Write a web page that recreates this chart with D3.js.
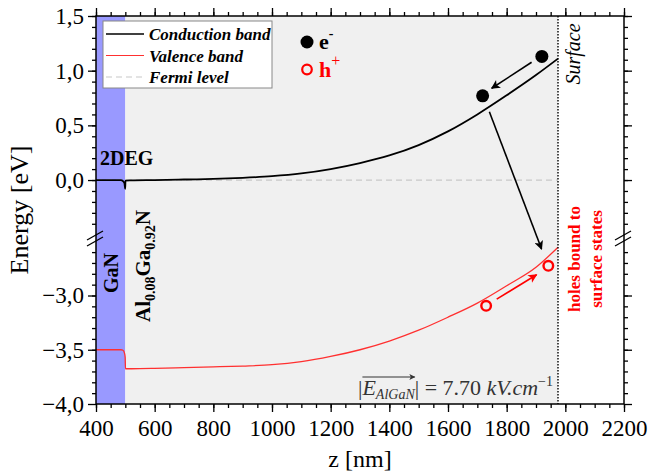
<!DOCTYPE html>
<html>
<head>
<meta charset="utf-8">
<script src="https://cdn.jsdelivr.net/npm/d3@7"></script>
<style>
  body { margin: 0; background: #fff; }
  svg { font-family: "Liberation Serif", "Times New Roman", serif; }
</style>
</head>
<body>
<script>
// band diagram data (z in nm, energy in eV)
var zCond = [400, 470, 485, 492, 497, 499.5, 500.5, 520, 600, 700, 800, 900, 1000, 1100, 1200, 1300, 1400, 1500, 1600, 1700, 1800, 1900, 1975];
var eCond = [0.00, 0.00, 0.00, -0.01, -0.03, -0.08, -0.005, -0.003, 0.00, 0.005, 0.01, 0.02, 0.035, 0.06, 0.10, 0.155, 0.225, 0.32, 0.445, 0.60, 0.775, 0.96, 1.11];

var zVal = [400, 485, 492, 497, 499.5, 500.5, 520, 600, 700, 800, 900, 1000, 1100, 1200, 1300, 1400, 1500, 1600, 1700, 1800, 1900, 1975];
var eVal = [-3.50, -3.50, -3.505, -3.53, -3.57, -3.675, -3.675, -3.672, -3.665, -3.658, -3.65, -3.638, -3.61, -3.562, -3.50, -3.42, -3.32, -3.20, -3.07, -2.91, -2.74, -2.555];

var fermiZ = [400, 1975];
var fermiE = [0, 0];

var ganRange = [400, 500];
var algaRange = [500, 1975];
var surfaceZ = 1975;

var xTicks = [400, 600, 800, 1000, 1200, 1400, 1600, 1800, 2000, 2200];
var yTicksTop = [0.0, 0.5, 1.0, 1.5];
var yTicksBot = [-4.0, -3.5, -3.0];

// carriers: [z, E]
var electrons = [[1920, 1.13], [1718, 0.77]];
var holes = [[1730, -3.095], [1942, -2.726]];
// arrows: [z1, E1, z2, E2]
var blackArrows = [[1885, 1.077, 1749, 0.839], [1741, 0.625, 1919, -2.572]];
var redArrows = [[1766, -3.033, 1902, -2.809]];

var legendNames = ["Conduction band", "Valence band", "Fermi level"];

var width = 650, height = 472;
var pL = 96, pR = 624, pT = 16, pB = 404, breakY = 238;

var x = d3.scaleLinear().domain([400, 2200]).range([pL, pR]);
var yTop = d3.scaleLinear().domain([-0.53, 1.5]).range([breakY, pT]);
var yBot = d3.scaleLinear().domain([-4.0, -2.47]).range([pB, breakY]);
var y = function(e) { return e > -1.5 ? yTop(e) : yBot(e); };

var svg = d3.select("body").
  append("svg").
  attr("width", width).
  attr("height", height);

var defs = svg.append("defs");
[["arrBlack", "#000", 11, 9], ["arrRed", "#f00", 11, 9], ["arrSmall", "#333", 8, 6]].forEach(function(m) {
  defs.append("marker").
    attr("id", m[0]).
    attr("viewBox", "0 0 10 10").
    attr("refX", 9).attr("refY", 5).
    attr("markerWidth", m[2]).attr("markerHeight", m[3]).
    attr("markerUnits", "userSpaceOnUse").
    attr("orient", "auto").
    append("path").
    attr("d", "M0,0 L10,5 L0,10 L2.5,5 z").
    attr("fill", m[1]);
});

// layer backgrounds
svg.append("rect").
  attr("x", x(ganRange[0])).attr("y", pT).
  attr("width", x(ganRange[1]) - x(ganRange[0])).attr("height", pB - pT).
  attr("fill", "#9999ff");
svg.append("rect").
  attr("x", x(algaRange[0])).attr("y", pT).
  attr("width", x(algaRange[1]) - x(algaRange[0])).attr("height", pB - pT).
  attr("fill", "#f0f0f0");

// fermi level
svg.append("path").
  datum(d3.zip(fermiZ, fermiE)).
  attr("d", d3.line().x(function(d) { return x(d[0]); }).y(function(d) { return y(d[1]); })).
  attr("fill", "none").
  attr("stroke", "#c8c8c8").
  attr("stroke-width", 1.2).
  attr("stroke-dasharray", "6,4");

var line = d3.line().
  x(function(d) { return x(d[0]); }).
  y(function(d) { return y(d[1]); }).
  curve(d3.curveMonotoneX);

svg.append("path").
  datum(d3.zip(zCond, eCond)).
  attr("d", line).
  attr("fill", "none").
  attr("stroke", "#000").
  attr("stroke-width", 1.8);

svg.append("path").
  datum(d3.zip(zVal, eVal)).
  attr("d", line).
  attr("fill", "none").
  attr("stroke", "#ff3030").
  attr("stroke-width", 1.3);

// surface line
svg.append("line").
  attr("x1", x(surfaceZ)).attr("x2", x(surfaceZ)).
  attr("y1", pT).attr("y2", pB).
  attr("stroke", "#000").
  attr("stroke-width", 1.4).
  attr("stroke-dasharray", "1.5,1.5");

// frame
svg.append("rect").
  attr("x", pL).attr("y", pT).
  attr("width", pR - pL).attr("height", pB - pT).
  attr("fill", "none").
  attr("stroke", "#000").
  attr("stroke-width", 1.5);

// axes
var fmt = function(d) { return d3.format(".1f")(d).replace(".", ","); };
var minorX = d3.range(400, 2201, 50);
var minorTop = d3.range(-4, 16).map(function(i) { return i / 10; });
var minorBot = d3.range(-39, -25).map(function(i) { return i / 10; });

function styleAxis(g) {
  g.select(".domain").remove();
  g.selectAll(".tick line").attr("stroke", "#000").attr("stroke-width", 1.3);
  g.selectAll(".tick text").
    attr("font-family", "Liberation Serif, serif").
    attr("font-size", 23).
    attr("fill", "#000");
}

svg.append("g").attr("transform", "translate(0," + pB + ")").
  call(d3.axisBottom(x).tickValues(minorX).tickSize(4).tickFormat("")).call(styleAxis);
svg.append("g").attr("transform", "translate(0," + pB + ")").
  call(d3.axisBottom(x).tickValues(xTicks).tickSize(8).tickPadding(8).tickFormat(d3.format("d"))).call(styleAxis);
svg.append("g").attr("transform", "translate(0," + pT + ")").
  call(d3.axisTop(x).tickValues(minorX).tickSize(4).tickFormat("")).call(styleAxis);
svg.append("g").attr("transform", "translate(0," + pT + ")").
  call(d3.axisTop(x).tickValues(xTicks).tickSize(8).tickFormat("")).call(styleAxis);

[[d3.axisLeft, pL], [d3.axisRight, pR]].forEach(function(a) {
  var lab = a[1] === pL;
  svg.append("g").attr("transform", "translate(" + a[1] + ",0)").
    call(a[0](yTop).tickValues(minorTop).tickSize(4).tickFormat("")).call(styleAxis);
  svg.append("g").attr("transform", "translate(" + a[1] + ",0)").
    call(a[0](yBot).tickValues(minorBot).tickSize(4).tickFormat("")).call(styleAxis);
  svg.append("g").attr("transform", "translate(" + a[1] + ",0)").
    call(a[0](yTop).tickValues(yTicksTop).tickSize(8).tickPadding(4).tickFormat(lab ? fmt : "")).call(styleAxis);
  svg.append("g").attr("transform", "translate(" + a[1] + ",0)").
    call(a[0](yBot).tickValues(yTicksBot).tickSize(8).tickPadding(4).tickFormat(lab ? fmt : "")).call(styleAxis);

  // break marks
  [-3, 3].forEach(function(off) {
    svg.append("line").
      attr("x1", a[1] - 9).attr("y1", breakY + 5 + off).
      attr("x2", a[1] + 7).attr("y2", breakY - 4 + off).
      attr("stroke", "#000").attr("stroke-width", 1.3);
  });
});

// axis titles
svg.append("text").
  attr("x", (pL + pR) / 2).attr("y", 467).
  attr("text-anchor", "middle").
  attr("font-size", 24).
  text("z [nm]");
svg.append("text").
  attr("transform", "translate(28," + (pT + pB) / 2 + ") rotate(-90)").
  attr("text-anchor", "middle").
  attr("font-size", 26).
  text("Energy [eV]");

// legend
var lg = svg.append("g");
lg.append("rect").
  attr("x", 103).attr("y", 21).attr("width", 169).attr("height", 67).
  attr("fill", "#fff").attr("stroke", "#888").attr("stroke-width", 1);
var legStyles = [["#000", 1.6, null], ["#ff3030", 1.2, null], ["#c8c8c8", 1.2, "6,4"]];
legendNames.forEach(function(name, i) {
  var ly = 34 + i * 21.5;
  lg.append("line").
    attr("x1", 106).attr("x2", 144).attr("y1", ly).attr("y2", ly).
    attr("stroke", legStyles[i][0]).
    attr("stroke-width", legStyles[i][1]).
    attr("stroke-dasharray", legStyles[i][2]);
  lg.append("text").
    attr("x", 149).attr("y", ly + 6).
    attr("font-size", 17).
    attr("font-weight", "bold").
    attr("font-style", "italic").
    text(name);
});

// carrier legend
svg.append("circle").attr("cx", 307).attr("cy", 42).attr("r", 6.5).attr("fill", "#000");
var et = svg.append("text").attr("x", 319).attr("y", 49).attr("font-size", 22).attr("font-weight", "bold");
et.append("tspan").text("e");
et.append("tspan").attr("dy", -11).attr("font-size", 14).text("-");
svg.append("circle").attr("cx", 307).attr("cy", 69.5).attr("r", 4.8).
  attr("fill", "none").attr("stroke", "#f00").attr("stroke-width", 2.2);
var ht = svg.append("text").attr("x", 319).attr("y", 77).attr("font-size", 22).
  attr("font-weight", "bold").attr("fill", "#f00");
ht.append("tspan").text("h");
ht.append("tspan").attr("dy", -11).attr("font-size", 16).attr("font-weight", "normal").text("+");

// carriers and arrows
svg.selectAll(".el").data(electrons).enter().append("circle").
  attr("cx", function(d) { return x(d[0]); }).
  attr("cy", function(d) { return y(d[1]); }).
  attr("r", 6.5).attr("fill", "#000");
svg.selectAll(".ho").data(holes).enter().append("circle").
  attr("cx", function(d) { return x(d[0]); }).
  attr("cy", function(d) { return y(d[1]); }).
  attr("r", 4.8).attr("fill", "none").attr("stroke", "#f00").attr("stroke-width", 2.4);

function drawArrows(data, color, marker) {
  svg.selectAll(null).data(data).enter().append("line").
    attr("x1", function(d) { return x(d[0]); }).
    attr("y1", function(d) { return y(d[1]); }).
    attr("x2", function(d) { return x(d[2]); }).
    attr("y2", function(d) { return y(d[3]); }).
    attr("stroke", color).attr("stroke-width", 1.6).
    attr("marker-end", "url(#" + marker + ")");
}
drawArrows(blackArrows, "#000", "arrBlack");
drawArrows(redArrows, "#f00", "arrRed");

// region labels
svg.append("text").
  attr("x", 100).attr("y", 165).
  attr("font-size", 20).attr("font-weight", "bold").
  text("2DEG");
svg.append("text").
  attr("transform", "translate(118,273) rotate(-90)").
  attr("text-anchor", "middle").
  attr("font-size", 20).attr("font-weight", "bold").
  text("GaN");
var al = svg.append("text").
  attr("transform", "translate(150,266) rotate(-90)").
  attr("text-anchor", "middle").
  attr("font-size", 21).attr("font-weight", "bold");
al.append("tspan").text("Al");
al.append("tspan").attr("dy", 5).attr("font-size", 14).text("0.08");
al.append("tspan").attr("dy", -5).text("Ga");
al.append("tspan").attr("dy", 5).attr("font-size", 14).text("0.92");
al.append("tspan").attr("dy", -5).text("N");

svg.append("text").
  attr("transform", "translate(580,54) rotate(-90)").
  attr("text-anchor", "middle").
  attr("font-size", 20).attr("font-style", "italic").
  text("Surface");
["holes bound to", "surface states"].forEach(function(s, i) {
  svg.append("text").
    attr("transform", "translate(" + (580 + i * 22) + ",259) rotate(-90)").
    attr("text-anchor", "middle").
    attr("font-size", 17).attr("font-weight", "bold").attr("fill", "#f00").
    text(s);
});

// field label
var ft = svg.append("text").
  attr("x", 553).attr("y", 395).
  attr("text-anchor", "end").
  attr("font-size", 22).
  attr("fill", "#333");
ft.append("tspan").text("|");
var eSpan = ft.append("tspan").attr("font-style", "italic").text("E");
var subSpan = ft.append("tspan").attr("font-style", "italic").attr("font-size", 14).attr("dy", 4).text("AlGaN");
ft.append("tspan").attr("dy", -4).text("| = 7.70 ");
ft.append("tspan").attr("font-style", "italic").text("kV.cm");
ft.append("tspan").attr("dy", -9).attr("font-size", 14).text("\u22121");

var ex0 = eSpan.node().getStartPositionOfChar(0).x;
var sn = subSpan.node();
var ex1 = sn.getEndPositionOfChar(sn.getNumberOfChars() - 1).x;
svg.append("line").
  attr("x1", ex0).attr("x2", ex1).
  attr("y1", 377).attr("y2", 377).
  attr("stroke", "#333").attr("stroke-width", 1).
  attr("marker-end", "url(#arrSmall)");
</script>
</body>
</html>
